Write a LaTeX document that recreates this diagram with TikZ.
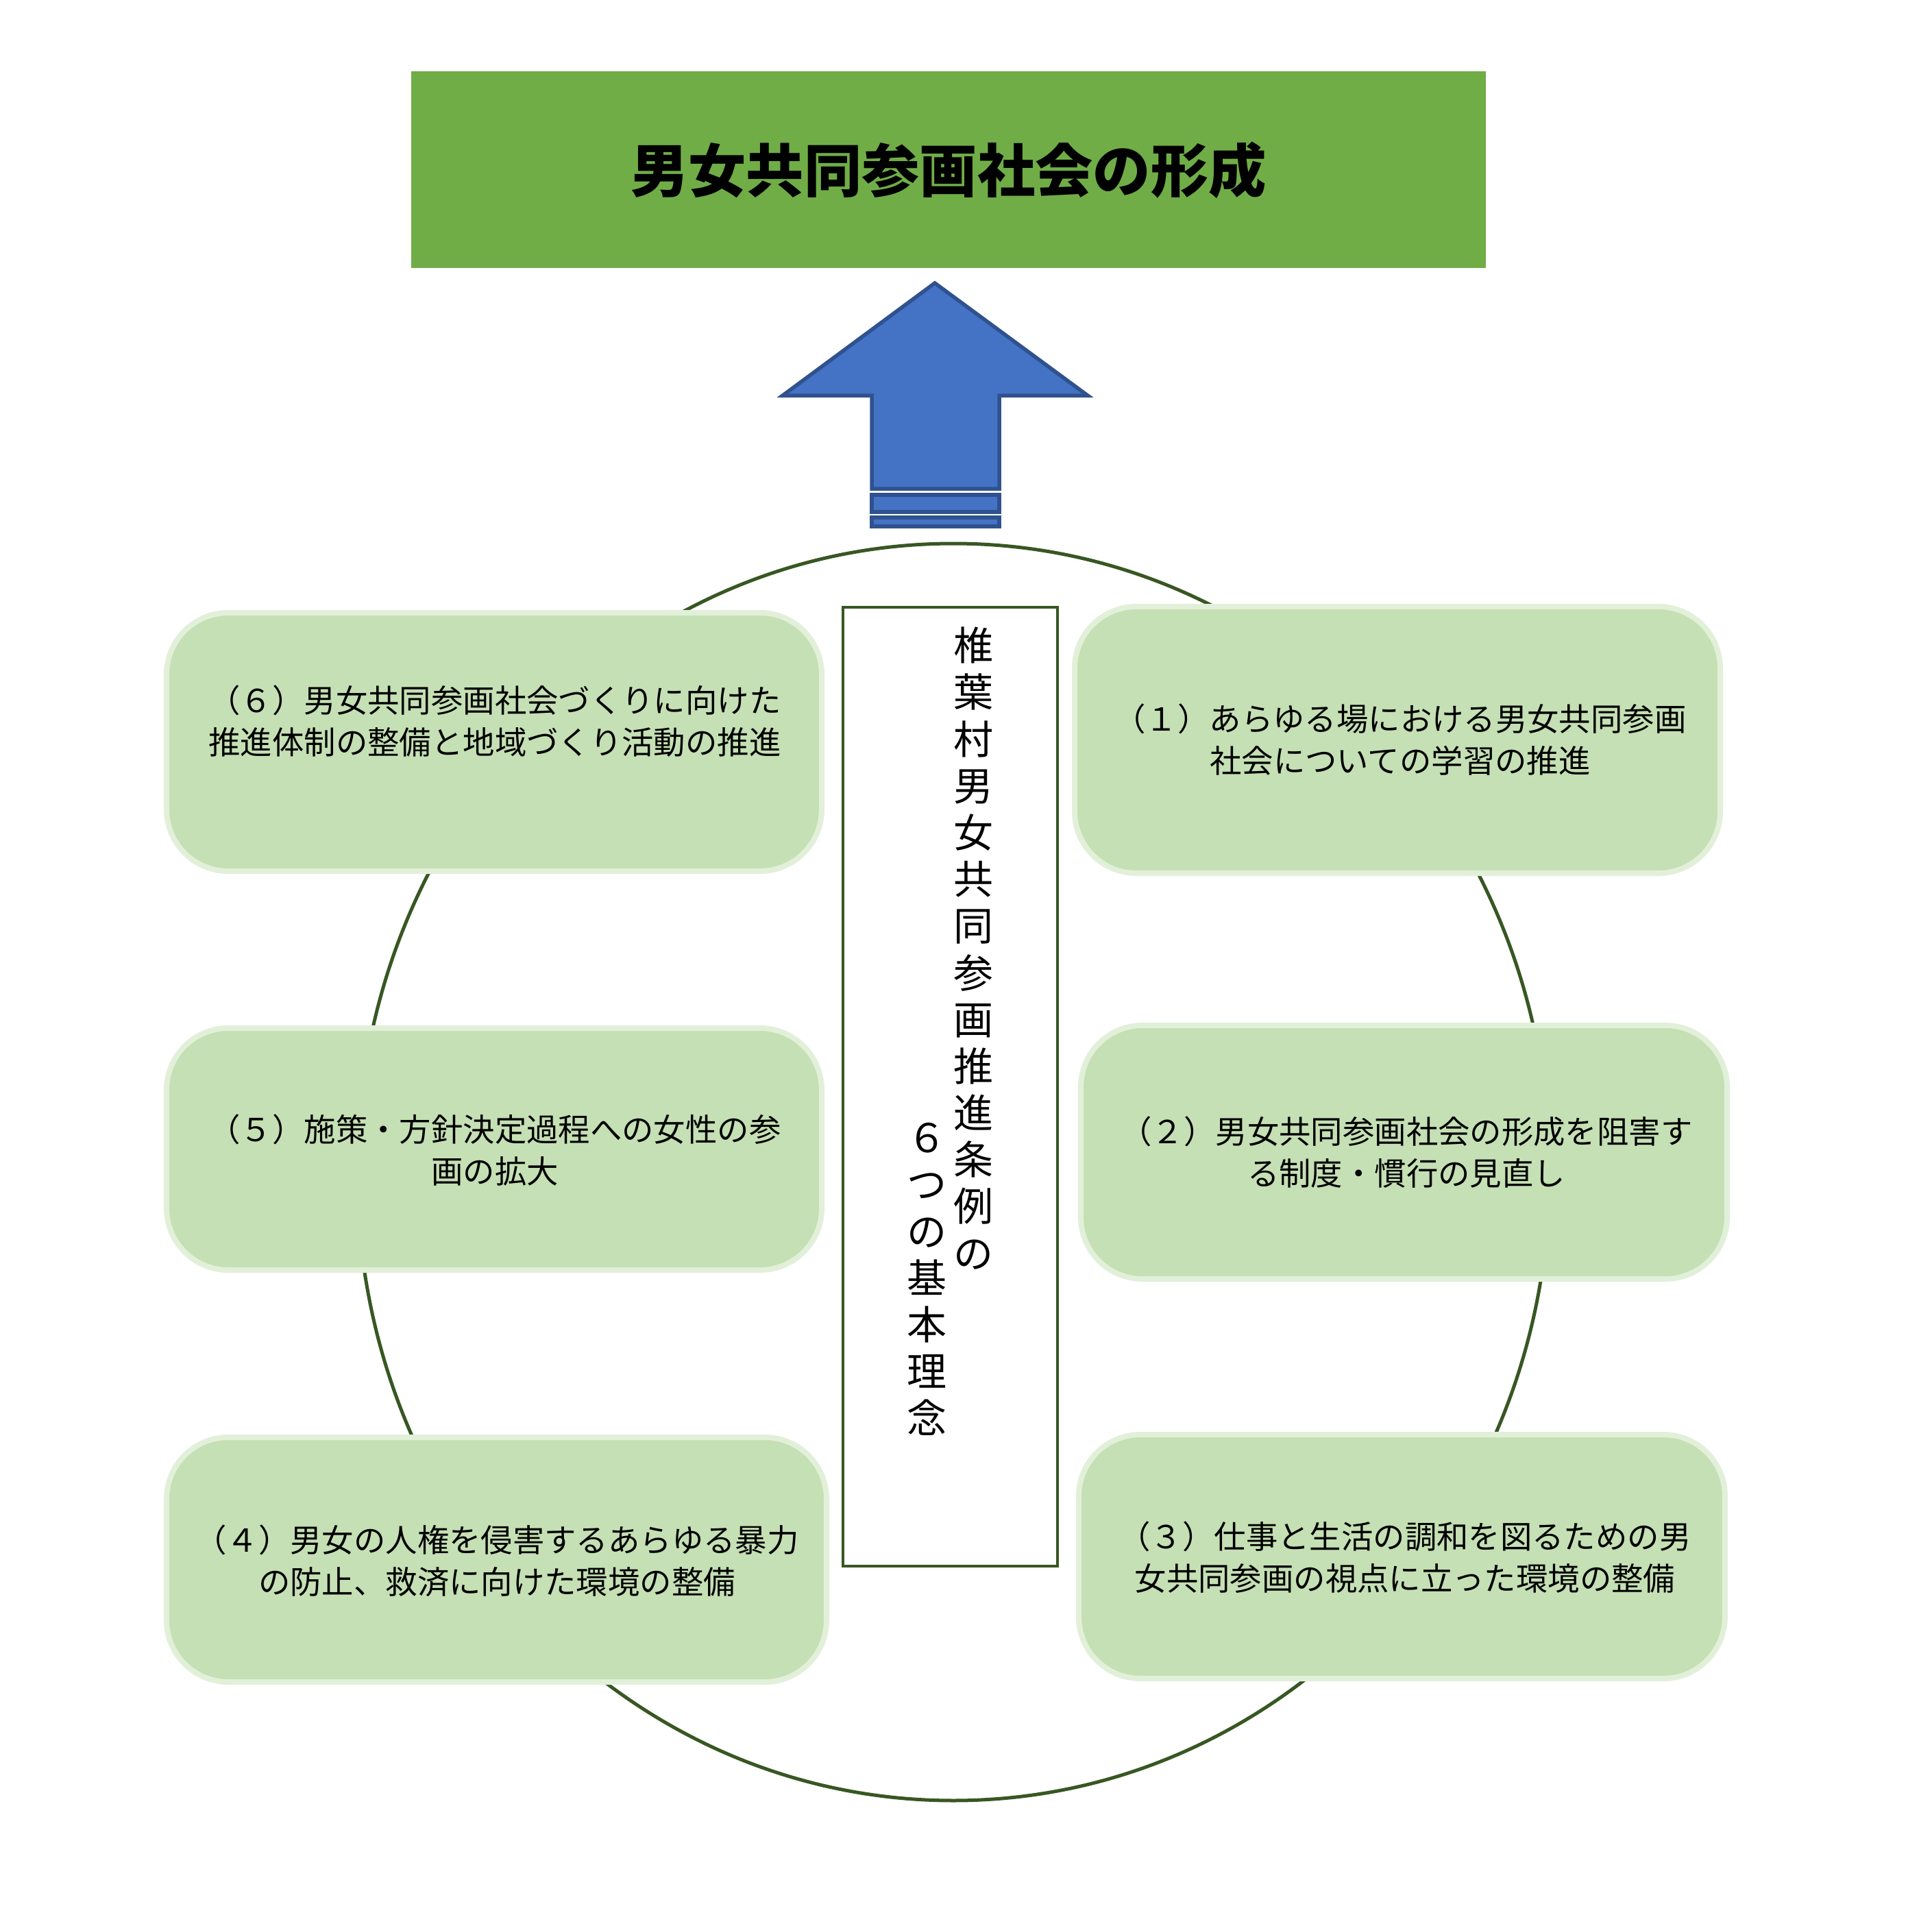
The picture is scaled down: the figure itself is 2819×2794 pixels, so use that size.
\documentclass[tikz,border=0pt]{standalone}
\usepackage{fontspec}
\usetikzlibrary{shapes.geometric}
\newfontfamily\jp{Noto Sans CJK JP}
\definecolor{titlegreen}{HTML}{70AD47}
\definecolor{boxfill}{HTML}{C5E0B4}
\definecolor{boxline}{HTML}{E2F0D9}
\definecolor{darkgreen}{HTML}{385723}
\definecolor{arrowfill}{HTML}{4472C4}
\definecolor{arrowline}{HTML}{2F528F}
\tikzset{
  itembox/.style={rectangle, rounded corners=9mm, fill=boxfill, draw=boxline, line width=0.8mm, inner sep=0pt},
  itemtext/.style={align=center, inner sep=0pt, font={\jp\fontsize{13.2pt}{17.4pt}\selectfont}},
  vtext/.style={align=center, inner sep=0pt, font={\jp\fontsize{16.5pt}{19.4pt}\selectfont}},
  arrowpart/.style={fill=arrowfill, draw=arrowline, line width=0.55mm, line join=miter}
}
\begin{document}
\begin{tikzpicture}[x=0.1mm,y=-0.1mm]
\useasboundingbox (0,0) rectangle (2819,2794);
% title
\node[rectangle, fill=titlegreen, minimum width=156.8mm, minimum height=28.7mm, inner sep=0pt] (title) at (1384,247.5) {};
\node[inner sep=0pt, font={\jp\bfseries\fontsize{24pt}{28pt}\selectfont}] (titletext) at (1384,248) {男女共同参画社会の形成};
% arrow
\draw[arrowpart] (1364,413) -- (1587,577) -- (1458,577) -- (1458,713) -- (1272,713) -- (1272,577) -- (1142,577) -- cycle;
\draw[arrowpart] (1272,722) rectangle (1458,747);
\draw[arrowpart] (1272,755) rectangle (1458,768);
% circle
\node[ellipse, draw=darkgreen, line width=0.5mm, minimum width=174mm, minimum height=183.4mm, inner sep=0pt] (ring) at (1391,1710) {};
% boxes
\node[itembox, minimum width=95.6mm, minimum height=37.7mm] (b6) at (721,1082.5) {};
\node[itembox, minimum width=94.2mm, minimum height=38.9mm] (b1) at (2039,1079.5) {};
\node[itembox, minimum width=95.6mm, minimum height=35.3mm] (b5) at (721,1676.5) {};
\node[itembox, minimum width=94.3mm, minimum height=37.0mm] (b2) at (2048.5,1681) {};
\node[itembox, minimum width=96.3mm, minimum height=35.7mm] (b4) at (724.5,2275.5) {};
\node[itembox, minimum width=94.3mm, minimum height=35.6mm] (b3) at (2045.5,2271) {};
% texts
\node[itemtext] (t6) at (722,1052) {（６）男女共同参画社会づくりに向けた\\推進体制の整備と地域づくり活動の推進};
\node[itemtext] (t1) at (2043,1079) {（１）あらゆる場における男女共同参画\\社会についての学習の推進};
\node[itemtext] (t5) at (722,1678) {（５）施策・方針決定過程への女性の参\\画の拡大};
\node[itemtext] (t2) at (2052,1681) {（２）男女共同参画社会の形成を阻害す\\る制度・慣行の見直し};
\node[itemtext] (t4) at (725,2277) {（４）男女の人権を侵害するあらゆる暴力\\の防止、救済に向けた環境の整備};
\node[itemtext] (t3) at (2050,2272) {（３）仕事と生活の調和を図るための男\\女共同参画の視点に立った環境の整備};
% center box
\node[rectangle, fill=white, draw=darkgreen, line width=0.45mm, minimum width=31.3mm, minimum height=139.9mm, inner sep=0pt] (center) at (1386.5,1585.5) {};
\node[vtext] (v1) at (1420,1383.5) {椎\\葉\\村\\男\\女\\共\\同\\参\\画\\推\\進\\条\\例\\の};
\node[vtext] (v2) at (1352,1866.5) {６\\つ\\の\\基\\本\\理\\念};
\end{tikzpicture}
\end{document}
